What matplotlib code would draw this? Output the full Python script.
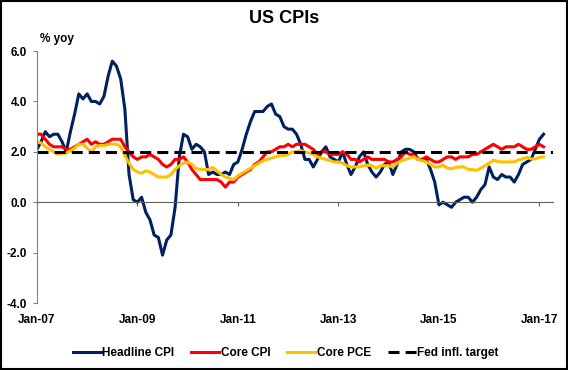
import numpy as np
import matplotlib.pyplot as plt
from matplotlib.patches import Rectangle

plt.rcParams['font.family'] = ['Liberation Sans', 'DejaVu Sans']
plt.rcParams['font.weight'] = 'bold'

# monthly % yoy, Jan-07 .. Feb-17
headline_cpi = [
    2.1, 2.4, 2.8, 2.6, 2.7, 2.7, 2.4, 2.0, 2.8, 3.5, 4.3, 4.1,
    4.3, 4.0, 4.0, 3.9, 4.2, 5.0, 5.6, 5.4, 4.9, 3.7, 1.1, 0.1,
    0.0, 0.2, -0.4, -0.7, -1.3, -1.4, -2.1, -1.5, -1.3, -0.2, 1.8, 2.7,
    2.6, 2.1, 2.3, 2.2, 2.0, 1.1, 1.2, 1.1, 1.1, 1.2, 1.1, 1.5,
    1.6, 2.1, 2.7, 3.2, 3.6, 3.6, 3.6, 3.8, 3.9, 3.5, 3.4, 3.0,
    2.9, 2.9, 2.7, 2.3, 1.7, 1.7, 1.4, 1.7, 2.0, 2.2, 1.8, 1.7,
    1.6, 2.0, 1.5, 1.1, 1.4, 1.8, 2.0, 1.5, 1.2, 1.0, 1.2, 1.5,
    1.6, 1.1, 1.5, 2.0, 2.1, 2.1, 2.0, 1.7, 1.7, 1.7, 1.3, 0.8,
    -0.1, 0.0, -0.1, -0.2, 0.0, 0.1, 0.2, 0.2, 0.0, 0.2, 0.5, 0.7,
    1.4, 1.0, 0.9, 1.1, 1.0, 1.0, 0.8, 1.1, 1.5, 1.6, 1.7, 2.1,
    2.5, 2.7,
]
core_cpi = [
    2.7, 2.7, 2.5, 2.3, 2.2, 2.2, 2.2, 2.1, 2.1, 2.2, 2.3, 2.4,
    2.5, 2.3, 2.4, 2.3, 2.3, 2.4, 2.5, 2.5, 2.5, 2.2, 2.0, 1.8,
    1.7, 1.8, 1.8, 1.9, 1.8, 1.7, 1.5, 1.4, 1.5, 1.7, 1.7, 1.8,
    1.6, 1.3, 1.1, 0.9, 0.9, 0.9, 0.9, 0.9, 0.8, 0.6, 0.8, 0.8,
    1.0, 1.1, 1.2, 1.3, 1.5, 1.6, 1.8, 2.0, 2.0, 2.1, 2.2, 2.2,
    2.3, 2.2, 2.3, 2.3, 2.3, 2.2, 2.1, 1.9, 2.0, 2.0, 1.9, 1.9,
    1.9, 2.0, 1.9, 1.7, 1.7, 1.6, 1.7, 1.8, 1.7, 1.7, 1.7, 1.7,
    1.6, 1.6, 1.7, 1.8, 2.0, 1.9, 1.9, 1.7, 1.7, 1.8, 1.7, 1.6,
    1.6, 1.7, 1.8, 1.8, 1.7, 1.8, 1.8, 1.8, 1.9, 1.9, 2.0, 2.1,
    2.2, 2.3, 2.2, 2.1, 2.2, 2.2, 2.2, 2.3, 2.2, 2.1, 2.1, 2.2,
    2.3, 2.2,
]
core_pce = [
    2.4, 2.35, 2.2, 2.1, 2.0, 1.9, 1.95, 1.95, 2.05, 2.15, 2.3, 2.3,
    2.15, 2.0, 2.2, 2.25, 2.25, 2.3, 2.3, 2.3, 2.2, 1.85, 1.55, 1.3,
    1.2, 1.15, 1.25, 1.2, 1.1, 1.0, 1.0, 1.0, 1.1, 1.3, 1.45, 1.55,
    1.6, 1.5, 1.35, 1.3, 1.3, 1.3, 1.38, 1.25, 1.1, 1.0, 0.95, 0.9,
    1.05, 1.15, 1.25, 1.35, 1.45, 1.55, 1.65, 1.7, 1.75, 1.8, 1.85, 1.85,
    1.9, 2.0, 2.0, 2.05, 2.0, 1.95, 1.9, 1.8, 1.75, 1.7, 1.65, 1.6,
    1.6, 1.55, 1.45, 1.4, 1.4, 1.4, 1.45, 1.47, 1.45, 1.35, 1.45, 1.45,
    1.45, 1.4, 1.55, 1.65, 1.7, 1.75, 1.8, 1.7, 1.65, 1.6, 1.5, 1.4,
    1.4, 1.47, 1.35, 1.33, 1.38, 1.4, 1.4, 1.3, 1.3, 1.27, 1.35, 1.45,
    1.55, 1.67, 1.62, 1.6, 1.6, 1.6, 1.6, 1.68, 1.72, 1.78, 1.72, 1.72,
    1.78, 1.8,
]
fed_target = 2.0

tick_labels = ['Jan-07', 'Jan-09', 'Jan-11', 'Jan-13', 'Jan-15', 'Jan-17']
months = np.arange(len(headline_cpi))

fig = plt.figure(figsize=(5.68, 3.7), dpi=100)
ax = fig.add_axes([0.065, 0.181, 0.909, 0.681])

ax.plot(months, headline_cpi, color='#002060', lw=2.2, label='Headline CPI')
ax.plot(months, core_cpi, color='#FF0000', lw=2.2, label='Core CPI')
ax.plot(months, core_pce, color='#FFC000', lw=2.2, label='Core PCE')
ax.axhline(fed_target, color='black', lw=2.2, ls=(0, (3.6, 2.0)), label='Fed infl. target')

ax.set_xlim(0, 123.3)
ax.set_ylim(-4, 6)
yt = np.arange(-4, 6.1, 2)
ax.set_yticks(yt)
ax.set_yticklabels([f'{v:.1f}' for v in yt])
ax.set_xticks(np.arange(0, len(headline_cpi), 24))
ax.set_xticklabels(tick_labels)

for s in ['top', 'right']:
    ax.spines[s].set_visible(False)
ax.spines['left'].set_color('#808080')
ax.spines['bottom'].set_position(('data', 0))
ax.spines['bottom'].set_color('#606060')
ax.tick_params(axis='y', length=3, color='#808080', labelsize=8.5, pad=4)
ax.tick_params(axis='x', length=3, color='#606060', labelsize=8.5, pad=77.5)

fig.text(0.5, 0.95, 'US CPIs', ha='center', va='center', fontsize=13, fontweight='bold')
fig.text(0.07, 0.894, '% yoy', ha='left', va='center', fontsize=8.5, fontweight='bold')

fig.legend(loc='center', bbox_to_anchor=(0.503, 0.046), ncol=4, frameon=False,
           fontsize=8.5, handlelength=2.37, handletextpad=0.1, columnspacing=1.45)

fig.patches.append(Rectangle((0.001, 0.002), 0.997, 0.995, transform=fig.transFigure,
                             fill=False, edgecolor='black', lw=1.5))

fig.savefig('out.png', dpi=100)
